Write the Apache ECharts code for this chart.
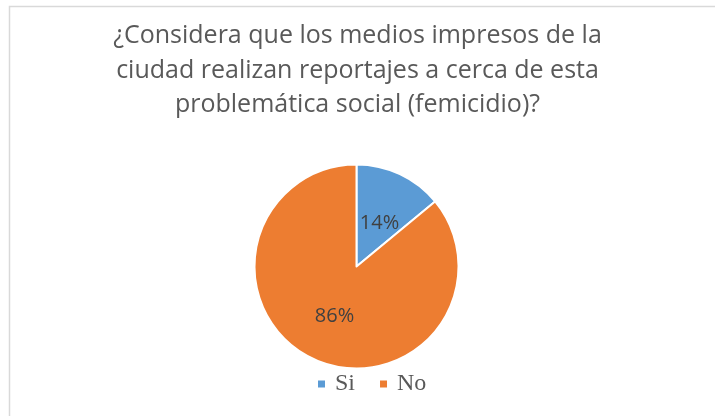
<!DOCTYPE html>
<html><head><meta charset="utf-8">
<script src="https://cdn.jsdelivr.net/npm/echarts@6/dist/echarts.min.js"></script>
<style>html,body{margin:0;padding:0;background:#fff}#c{width:715px;height:416px}</style>
</head><body><div id="c"></div>
<script>
const titleLines = ['¿Considera que los medios impresos de la','ciudad realizan reportajes a cerca de esta','problemática social (femicidio)?'];
const categories = ['Si','No'];
const values = [14, 86];
const colors = ['#5B9BD5','#ED7D31'];
const labelShift = [[0,6],[1,1]];
const chart = echarts.init(document.getElementById('c'));
chart.setOption({
  animation:false,
  graphic:[{type:'rect',shape:{x:9.5,y:6.5,width:720,height:420},style:{fill:'none',stroke:'#d9d9d9',lineWidth:1.5},silent:true}],
  title:{text:titleLines.join('\n'),left:'center',top:14,textStyle:{fontFamily:'Open Sans',fontSize:25,fontWeight:'normal',color:'#595959',lineHeight:34.5}},
  legend:{top:372,left:316,padding:0,itemWidth:9,itemHeight:9,itemGap:23,icon:'rect',textStyle:{fontFamily:'Liberation Serif',fontSize:24,color:'#595959',padding:[0,0,0,4]},data:categories},
  series:[{type:'pie',center:[356.5,266.5],radius:[0,102],startAngle:90,clockwise:true,
    itemStyle:{borderColor:'#fff',borderWidth:2},
    label:{show:true,position:'inside',formatter:'{c}%',fontFamily:'Open Sans',fontSize:20,color:'#404040'},
    labelLine:{show:false},
    data:categories.map((n,i)=>({name:n,value:values[i],itemStyle:{color:colors[i]},label:{offset:labelShift[i]}}))}]
});
</script></body></html>
